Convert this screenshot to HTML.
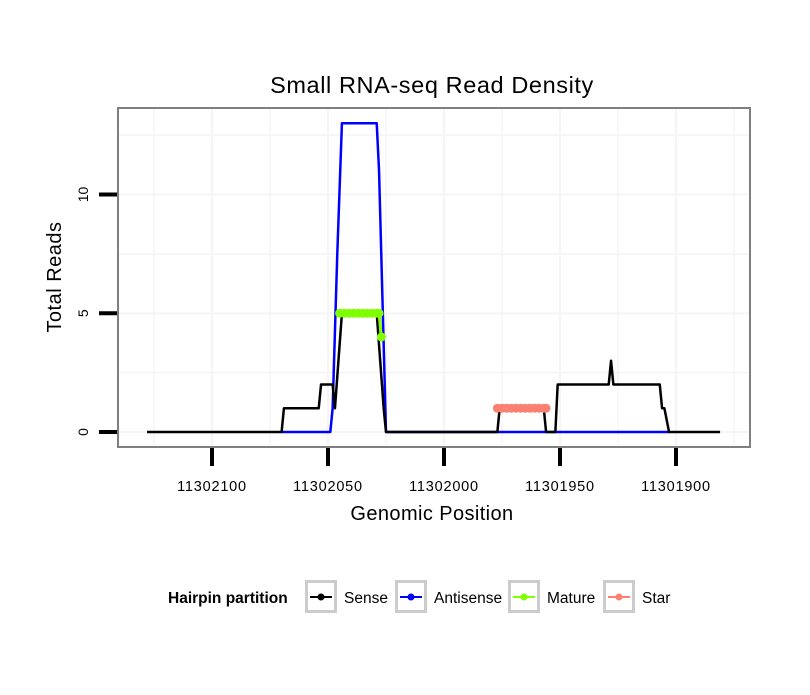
<!DOCTYPE html>
<html><head><meta charset="utf-8"><style>
body{margin:0;background:#fff;font-family:"Liberation Sans",sans-serif}
svg text{font-family:"Liberation Sans",sans-serif}
</style></head><body>
<svg id="chart" width="810" height="690" xmlns="http://www.w3.org/2000/svg">
<rect width="810" height="690" fill="#fff"/>
<text x="432" y="93" font-size="23.5" text-anchor="middle" letter-spacing="0.6">Small RNA-seq Read Density</text>
<g id="grid"></g>
<g id="series"></g>
<rect x="118" y="108" width="632" height="339" fill="none" stroke="#7f7f7f" stroke-width="2"/>
<g id="axes"></g>
<text x="432" y="520" font-size="20" text-anchor="middle" letter-spacing="0.4">Genomic Position</text>
<text transform="translate(61,277) rotate(-90)" font-size="20" text-anchor="middle" letter-spacing="0.5">Total Reads</text>
<g id="legend">
<text x="168" y="603" font-size="15.5" font-weight="bold">Hairpin partition</text>
</g>
</svg>
<script>
const xTicks=[11302100,11302050,11302000,11301950,11301900];
const yTicks=[0,5,10];
const senseX=[11302128,11302070,11302069,11302054,11302053,11302048,11302047,11302044,11302029,11302026,11302025,11301977,11301976,11301957,11301956,11301952,11301951,11301929,11301928,11301927,11301907,11301906,11301905,11301903,11301881];
const senseY=[0,0,1,1,2,2,1,5,5,1,0,0,1,1,0,0,2,2,3,2,2,1,1,0,0];
const antiX=[11302070,11302049,11302048,11302046,11302044,11302029,11302028,11302025,11301903];
const antiY=[0,0,1,7.5,13,13,11,0,0];
const matureX=[11302045,11302043,11302041,11302039,11302037,11302035,11302033,11302031,11302029,11302028,11302027];
const matureY=[5,5,5,5,5,5,5,5,5,5,4];
const starX=[11301977,11301975,11301973,11301971,11301969,11301967,11301965,11301963,11301961,11301959,11301957,11301956];
const starY=[1,1,1,1,1,1,1,1,1,1,1,1];
const legendLabels=["Sense","Antisense","Mature","Star"];
const legendColors=["#000000","#0000ff","#7fff00","#fa8072"];

const NS="http://www.w3.org/2000/svg";
const X=p=>212+(11302100-p)*2.32;
const Y=v=>432-v*23.75;
function mk(t,a,parent){const e=document.createElementNS(NS,t);for(const k in a)e.setAttribute(k,a[k]);parent.appendChild(e);return e;}
const grid=document.getElementById('grid'),axes=document.getElementById('axes'),ser=document.getElementById('series'),leg=document.getElementById('legend');
// grid
for(let i=0;i<xTicks.length;i++){const p=xTicks[0]-i*50;
 let g=mk('line',{x1:X(p),x2:X(p),y1:109,y2:446,stroke:'#f5f5f5','stroke-width':2},grid);
 
 
 let m=mk('line',{x1:X(p-25),x2:X(p-25),y1:109,y2:446,stroke:'#f8f8f8','stroke-width':2},grid);
 
 }
{let m=mk('line',{x1:X(xTicks[0]+25),x2:X(xTicks[0]+25),y1:109,y2:446,stroke:'#f8f8f8','stroke-width':2},grid);
 
 }
for(let v=0;v<=12.5;v+=2.5){const g=mk('line',{x1:119,x2:749,y1:Y(v),y2:Y(v),stroke:'#f6f6f6','stroke-width':2},grid);
 
 }
// axes
xTicks.forEach(p=>{const t=mk('line',{x1:X(p),x2:X(p),y1:448,y2:466,stroke:'#000','stroke-width':4},axes);
 
 
 const l=mk('text',{x:X(p),y:491,'font-size':14.5,'text-anchor':'middle','letter-spacing':0.8},axes);l.textContent=p;
 
 });
yTicks.forEach(v=>{const t=mk('line',{x1:99,x2:117,y1:Y(v),y2:Y(v),stroke:'#000','stroke-width':4},axes);
 
 
 const l=mk('text',{transform:`translate(88,${Y(v)}) rotate(-90)`,'font-size':14,'text-anchor':'middle'},axes);l.textContent=v;
 
 });
// series
function line(xs,ys,c,name){const pl=mk('polyline',{points:xs.map((p,i)=>X(p)+','+Y(ys[i])).join(' '),fill:'none',stroke:c,'stroke-width':2.5,'stroke-linejoin':'round'},ser);
 
 }
function pts(xs,ys,c,name){xs.forEach((p,i)=>{const e=mk('circle',{cx:X(p),cy:Y(ys[i]),r:4.5,fill:c},ser);
 
 });
 const pl=mk('polyline',{points:xs.map((p,i)=>X(p)+','+Y(ys[i])).join(' '),fill:'none',stroke:c,'stroke-width':3},ser);
 
 }
line(antiX,antiY,'#0000ff','antisense-line');
line(senseX,senseY,'#000000','sense-line');
pts(matureX,matureY,'#7fff00','mature-point');
pts(starX,starY,'#fa8072','star-point');
// legend
const lx=[305,395,508,603];
legendLabels.forEach((lab,i)=>{const x=lx[i];
 const b=mk('rect',{x:x+1.5,y:581.5,width:29,height:30,fill:'#fff',stroke:'#cccccc','stroke-width':3},leg);
 
 
 mk('line',{x1:x+5,x2:x+27,y1:597,y2:597,stroke:legendColors[i],'stroke-width':2},leg);
 mk('circle',{cx:x+16,cy:597,r:3.5,fill:legendColors[i]},leg);
 const t=mk('text',{x:x+39,y:603,'font-size':15.5},leg);t.textContent=lab;
 
 });
</script>
</body></html>
